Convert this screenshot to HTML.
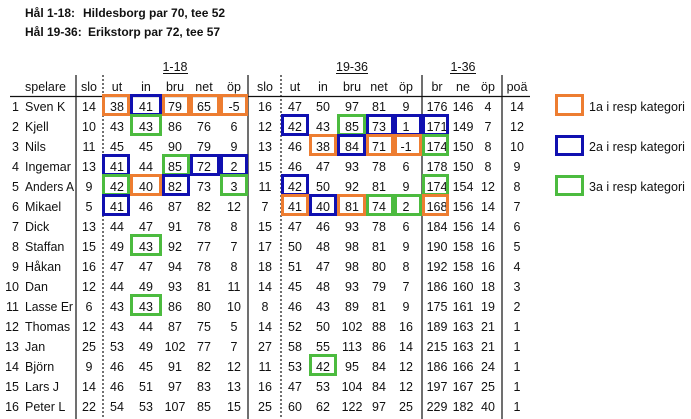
<!DOCTYPE html>
<html><head><meta charset="utf-8"><style>
html,body{margin:0;padding:0;background:#fff;}
svg{display:block;}
text{font-family:"Liberation Sans",sans-serif;font-size:12.5px;fill:#111;}
.b{font-weight:bold;font-size:12px;}
.c{text-anchor:middle;}
.r{text-anchor:end;}
</style></head><body>
<svg width="691" height="419" viewBox="0 0 691 419" xmlns="http://www.w3.org/2000/svg">
<text class="b" x="25" y="17">Hål 1-18:<tspan x="83">Hildesborg par 70, tee 52</tspan></text>
<text class="b" x="25" y="36">Hål 19-36:<tspan x="88">Erikstorp par 72, tee 57</tspan></text>

<text class="c" x="175" y="71">1-18</text>
<text class="c" x="352" y="71">19-36</text>
<text class="c" x="463" y="71">1-36</text>
<line x1="163" y1="73.5" x2="188" y2="73.5" stroke="#111" stroke-width="1"/>
<line x1="336" y1="73.5" x2="368" y2="73.5" stroke="#111" stroke-width="1"/>
<line x1="450" y1="73.5" x2="476" y2="73.5" stroke="#111" stroke-width="1"/>

<g stroke="#111" stroke-width="1.2">
<line x1="76" y1="75" x2="76" y2="419"/>
<line x1="248" y1="75" x2="248" y2="419"/>
<line x1="422" y1="75" x2="422" y2="419"/>
<line x1="502" y1="75" x2="502" y2="419"/>
<line x1="10" y1="96.5" x2="530" y2="96.5"/>
</g>
<g stroke="#111" stroke-width="1.2" stroke-dasharray="2,2">
<line x1="103" y1="75" x2="103" y2="419"/>
<line x1="281" y1="75" x2="281" y2="419"/>
</g>

<text x="25" y="91">spelare</text>
<g class="c">
<text x="89" y="91">slo</text><text x="117" y="91">ut</text><text x="146" y="91">in</text><text x="175" y="91">bru</text><text x="204" y="91">net</text><text x="234" y="91">öp</text>
<text x="265" y="91">slo</text><text x="295" y="91">ut</text><text x="323" y="91">in</text><text x="352" y="91">bru</text><text x="379" y="91">net</text><text x="406" y="91">öp</text>
<text x="437" y="91">br</text><text x="463" y="91">ne</text><text x="488" y="91">öp</text><text x="517" y="91">poä</text>
</g>

<g>
<text class="r" x="19" y="111">1</text><text class="r" x="19" y="131">2</text><text class="r" x="19" y="151">3</text><text class="r" x="19" y="171">4</text><text class="r" x="19" y="191">5</text><text class="r" x="19" y="211">6</text><text class="r" x="19" y="231">7</text><text class="r" x="19" y="251">8</text><text class="r" x="19" y="271">9</text><text class="r" x="19" y="291">10</text><text class="r" x="19" y="311">11</text><text class="r" x="19" y="331">12</text><text class="r" x="19" y="351">13</text><text class="r" x="19" y="371">14</text><text class="r" x="19" y="391">15</text><text class="r" x="19" y="411">16</text>
<text x="25" y="111">Sven K</text><text x="25" y="131">Kjell</text><text x="25" y="151">Nils</text><text x="25" y="171">Ingemar</text><text x="25" y="191" textLength="49" lengthAdjust="spacingAndGlyphs">Anders A</text><text x="25" y="211">Mikael</text><text x="25" y="231">Dick</text><text x="25" y="251">Staffan</text><text x="25" y="271">Håkan</text><text x="25" y="291">Dan</text><text x="25" y="311" textLength="48" lengthAdjust="spacingAndGlyphs">Lasse Er</text><text x="25" y="331">Thomas</text><text x="25" y="351">Jan</text><text x="25" y="371">Björn</text><text x="25" y="391">Lars J</text><text x="25" y="411">Peter L</text>
</g>
<g class="c">
<text y="111"><tspan x="89">14</tspan><tspan x="117">38</tspan><tspan x="146">41</tspan><tspan x="175">79</tspan><tspan x="204">65</tspan><tspan x="234">-5</tspan><tspan x="265">16</tspan><tspan x="295">47</tspan><tspan x="323">50</tspan><tspan x="352">97</tspan><tspan x="379">81</tspan><tspan x="406">9</tspan><tspan x="437">176</tspan><tspan x="463">146</tspan><tspan x="488">4</tspan><tspan x="517">14</tspan></text>
<text y="131"><tspan x="89">10</tspan><tspan x="117">43</tspan><tspan x="146">43</tspan><tspan x="175">86</tspan><tspan x="204">76</tspan><tspan x="234">6</tspan><tspan x="265">12</tspan><tspan x="295">42</tspan><tspan x="323">43</tspan><tspan x="352">85</tspan><tspan x="379">73</tspan><tspan x="406">1</tspan><tspan x="437">171</tspan><tspan x="463">149</tspan><tspan x="488">7</tspan><tspan x="517">12</tspan></text>
<text y="151"><tspan x="89">11</tspan><tspan x="117">45</tspan><tspan x="146">45</tspan><tspan x="175">90</tspan><tspan x="204">79</tspan><tspan x="234">9</tspan><tspan x="265">13</tspan><tspan x="295">46</tspan><tspan x="323">38</tspan><tspan x="352">84</tspan><tspan x="379">71</tspan><tspan x="406">-1</tspan><tspan x="437">174</tspan><tspan x="463">150</tspan><tspan x="488">8</tspan><tspan x="517">10</tspan></text>
<text y="171"><tspan x="89">13</tspan><tspan x="117">41</tspan><tspan x="146">44</tspan><tspan x="175">85</tspan><tspan x="204">72</tspan><tspan x="234">2</tspan><tspan x="265">15</tspan><tspan x="295">46</tspan><tspan x="323">47</tspan><tspan x="352">93</tspan><tspan x="379">78</tspan><tspan x="406">6</tspan><tspan x="437">178</tspan><tspan x="463">150</tspan><tspan x="488">8</tspan><tspan x="517">9</tspan></text>
<text y="191"><tspan x="89">9</tspan><tspan x="117">42</tspan><tspan x="146">40</tspan><tspan x="175">82</tspan><tspan x="204">73</tspan><tspan x="234">3</tspan><tspan x="265">11</tspan><tspan x="295">42</tspan><tspan x="323">50</tspan><tspan x="352">92</tspan><tspan x="379">81</tspan><tspan x="406">9</tspan><tspan x="437">174</tspan><tspan x="463">154</tspan><tspan x="488">12</tspan><tspan x="517">8</tspan></text>
<text y="211"><tspan x="89">5</tspan><tspan x="117">41</tspan><tspan x="146">46</tspan><tspan x="175">87</tspan><tspan x="204">82</tspan><tspan x="234">12</tspan><tspan x="265">7</tspan><tspan x="295">41</tspan><tspan x="323">40</tspan><tspan x="352">81</tspan><tspan x="379">74</tspan><tspan x="406">2</tspan><tspan x="437">168</tspan><tspan x="463">156</tspan><tspan x="488">14</tspan><tspan x="517">7</tspan></text>
<text y="231"><tspan x="89">13</tspan><tspan x="117">44</tspan><tspan x="146">47</tspan><tspan x="175">91</tspan><tspan x="204">78</tspan><tspan x="234">8</tspan><tspan x="265">15</tspan><tspan x="295">47</tspan><tspan x="323">46</tspan><tspan x="352">93</tspan><tspan x="379">78</tspan><tspan x="406">6</tspan><tspan x="437">184</tspan><tspan x="463">156</tspan><tspan x="488">14</tspan><tspan x="517">6</tspan></text>
<text y="251"><tspan x="89">15</tspan><tspan x="117">49</tspan><tspan x="146">43</tspan><tspan x="175">92</tspan><tspan x="204">77</tspan><tspan x="234">7</tspan><tspan x="265">17</tspan><tspan x="295">50</tspan><tspan x="323">48</tspan><tspan x="352">98</tspan><tspan x="379">81</tspan><tspan x="406">9</tspan><tspan x="437">190</tspan><tspan x="463">158</tspan><tspan x="488">16</tspan><tspan x="517">5</tspan></text>
<text y="271"><tspan x="89">16</tspan><tspan x="117">47</tspan><tspan x="146">47</tspan><tspan x="175">94</tspan><tspan x="204">78</tspan><tspan x="234">8</tspan><tspan x="265">18</tspan><tspan x="295">51</tspan><tspan x="323">47</tspan><tspan x="352">98</tspan><tspan x="379">80</tspan><tspan x="406">8</tspan><tspan x="437">192</tspan><tspan x="463">158</tspan><tspan x="488">16</tspan><tspan x="517">4</tspan></text>
<text y="291"><tspan x="89">12</tspan><tspan x="117">44</tspan><tspan x="146">49</tspan><tspan x="175">93</tspan><tspan x="204">81</tspan><tspan x="234">11</tspan><tspan x="265">14</tspan><tspan x="295">45</tspan><tspan x="323">48</tspan><tspan x="352">93</tspan><tspan x="379">79</tspan><tspan x="406">7</tspan><tspan x="437">186</tspan><tspan x="463">160</tspan><tspan x="488">18</tspan><tspan x="517">3</tspan></text>
<text y="311"><tspan x="89">6</tspan><tspan x="117">43</tspan><tspan x="146">43</tspan><tspan x="175">86</tspan><tspan x="204">80</tspan><tspan x="234">10</tspan><tspan x="265">8</tspan><tspan x="295">46</tspan><tspan x="323">43</tspan><tspan x="352">89</tspan><tspan x="379">81</tspan><tspan x="406">9</tspan><tspan x="437">175</tspan><tspan x="463">161</tspan><tspan x="488">19</tspan><tspan x="517">2</tspan></text>
<text y="331"><tspan x="89">12</tspan><tspan x="117">43</tspan><tspan x="146">44</tspan><tspan x="175">87</tspan><tspan x="204">75</tspan><tspan x="234">5</tspan><tspan x="265">14</tspan><tspan x="295">52</tspan><tspan x="323">50</tspan><tspan x="352">102</tspan><tspan x="379">88</tspan><tspan x="406">16</tspan><tspan x="437">189</tspan><tspan x="463">163</tspan><tspan x="488">21</tspan><tspan x="517">1</tspan></text>
<text y="351"><tspan x="89">25</tspan><tspan x="117">53</tspan><tspan x="146">49</tspan><tspan x="175">102</tspan><tspan x="204">77</tspan><tspan x="234">7</tspan><tspan x="265">27</tspan><tspan x="295">58</tspan><tspan x="323">55</tspan><tspan x="352">113</tspan><tspan x="379">86</tspan><tspan x="406">14</tspan><tspan x="437">215</tspan><tspan x="463">163</tspan><tspan x="488">21</tspan><tspan x="517">1</tspan></text>
<text y="371"><tspan x="89">9</tspan><tspan x="117">46</tspan><tspan x="146">45</tspan><tspan x="175">91</tspan><tspan x="204">82</tspan><tspan x="234">12</tspan><tspan x="265">11</tspan><tspan x="295">53</tspan><tspan x="323">42</tspan><tspan x="352">95</tspan><tspan x="379">84</tspan><tspan x="406">12</tspan><tspan x="437">186</tspan><tspan x="463">166</tspan><tspan x="488">24</tspan><tspan x="517">1</tspan></text>
<text y="391"><tspan x="89">14</tspan><tspan x="117">46</tspan><tspan x="146">51</tspan><tspan x="175">97</tspan><tspan x="204">83</tspan><tspan x="234">13</tspan><tspan x="265">16</tspan><tspan x="295">47</tspan><tspan x="323">53</tspan><tspan x="352">104</tspan><tspan x="379">84</tspan><tspan x="406">12</tspan><tspan x="437">197</tspan><tspan x="463">167</tspan><tspan x="488">25</tspan><tspan x="517">1</tspan></text>
<text y="411"><tspan x="89">22</tspan><tspan x="117">54</tspan><tspan x="146">53</tspan><tspan x="175">107</tspan><tspan x="204">85</tspan><tspan x="234">15</tspan><tspan x="265">25</tspan><tspan x="295">60</tspan><tspan x="323">62</tspan><tspan x="352">122</tspan><tspan x="379">97</tspan><tspan x="406">25</tspan><tspan x="437">229</tspan><tspan x="463">182</tspan><tspan x="488">40</tspan><tspan x="517">1</tspan></text>
</g>

<g fill="none" stroke-width="3">
<rect x="103.5" y="95.5" width="25" height="19" stroke="#ED7D31"/>
<rect x="163.5" y="95.5" width="25" height="19" stroke="#ED7D31"/>
<rect x="191.5" y="95.5" width="27" height="19" stroke="#ED7D31"/>
<rect x="221.5" y="95.5" width="25" height="19" stroke="#ED7D31"/>
<rect x="131.5" y="95.5" width="29" height="19" stroke="#1010B0"/>
<rect x="131.5" y="115.5" width="29" height="19" stroke="#4CBB3F"/>
<rect x="282.5" y="115.5" width="25" height="19" stroke="#1010B0"/>
<rect x="338.5" y="115.5" width="26" height="19" stroke="#4CBB3F"/>
<rect x="367.5" y="115.5" width="25" height="19" stroke="#1010B0"/>
<rect x="395.5" y="115.5" width="25" height="19" stroke="#1010B0"/>
<rect x="423.5" y="115.5" width="24" height="19" stroke="#1010B0"/>
<rect x="310.5" y="135.5" width="25" height="19" stroke="#ED7D31"/>
<rect x="367.5" y="135.5" width="25" height="19" stroke="#ED7D31"/>
<rect x="395.5" y="135.5" width="25" height="19" stroke="#ED7D31"/>
<rect x="338.5" y="135.5" width="26" height="19" stroke="#1010B0"/>
<rect x="423.5" y="135.5" width="24" height="19" stroke="#4CBB3F"/>
<rect x="163.5" y="155.5" width="25" height="19" stroke="#4CBB3F"/>
<rect x="103.5" y="155.5" width="25" height="19" stroke="#1010B0"/>
<rect x="191.5" y="155.5" width="27" height="19" stroke="#1010B0"/>
<rect x="221.5" y="155.5" width="25" height="19" stroke="#1010B0"/>
<rect x="103.5" y="175.5" width="25" height="19" stroke="#4CBB3F"/>
<rect x="131.5" y="175.5" width="29" height="19" stroke="#ED7D31"/>
<rect x="221.5" y="175.5" width="25" height="19" stroke="#4CBB3F"/>
<rect x="163.5" y="175.5" width="25" height="19" stroke="#1010B0"/>
<rect x="282.5" y="175.5" width="25" height="19" stroke="#1010B0"/>
<rect x="423.5" y="175.5" width="24" height="19" stroke="#4CBB3F"/>
<rect x="103.5" y="195.5" width="25" height="19" stroke="#1010B0"/>
<rect x="282.5" y="195.5" width="25" height="19" stroke="#ED7D31"/>
<rect x="338.5" y="195.5" width="26" height="19" stroke="#ED7D31"/>
<rect x="367.5" y="195.5" width="25" height="19" stroke="#4CBB3F"/>
<rect x="395.5" y="195.5" width="25" height="19" stroke="#4CBB3F"/>
<rect x="423.5" y="195.5" width="24" height="19" stroke="#ED7D31"/>
<rect x="310.5" y="195.5" width="25" height="19" stroke="#1010B0"/>
<rect x="131.5" y="235.5" width="29" height="19" stroke="#4CBB3F"/>
<rect x="131.5" y="295.5" width="29" height="19" stroke="#4CBB3F"/>
<rect x="310.5" y="355.5" width="25" height="19" stroke="#4CBB3F"/>
<rect x="556.5" y="95.5" width="26" height="19" stroke="#ED7D31"/>
<rect x="556.5" y="136.5" width="26" height="18" stroke="#1010B0"/>
<rect x="556.5" y="176.5" width="26" height="18" stroke="#4CBB3F"/>
</g>
<text x="589" y="111">1a i resp kategori</text>
<text x="589" y="151">2a i resp kategori</text>
<text x="589" y="191">3a i resp kategori</text>
</svg>
</body></html>
